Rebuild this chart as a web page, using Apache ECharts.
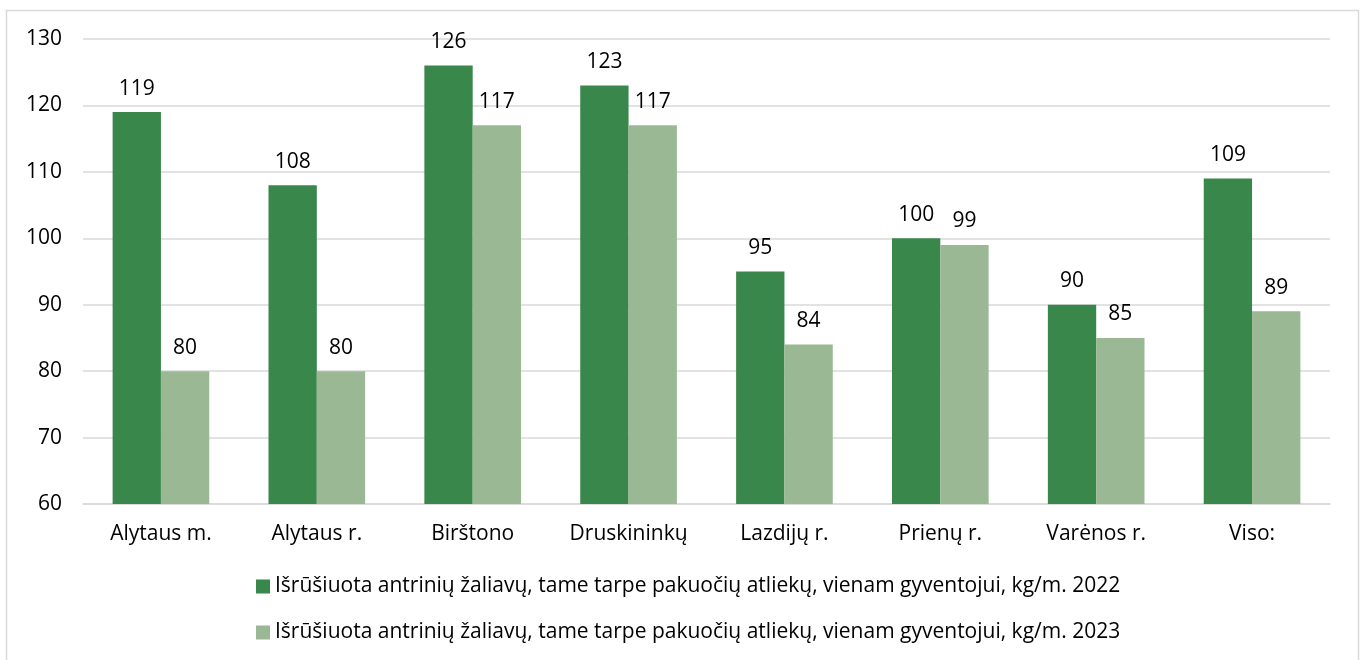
<!DOCTYPE html>
<html><head><meta charset="utf-8">
<script src="https://cdn.jsdelivr.net/npm/echarts@6/dist/echarts.min.js"></script>
<style>html,body{margin:0;padding:0;background:#fff}#c{width:1365px;height:660px}</style>
</head><body><div id="c"></div>
<script>
const categories = ["Alytaus m.", "Alytaus r.", "Birštono", "Druskininkų", "Lazdijų r.", "Prienų r.", "Varėnos r.", "Viso:"];
const values2022 = [119, 108, 126, 123, 95, 100, 90, 109];
const values2023 = [80, 80, 117, 117, 84, 99, 85, 89];
const seriesNames = ["Išrūšiuota antrinių žaliavų, tame tarpe pakuočių atliekų, vienam gyventojui, kg/m. 2022",
                     "Išrūšiuota antrinių žaliavų, tame tarpe pakuočių atliekų, vienam gyventojui, kg/m. 2023"];
const FONT = '"Open Sans", "Liberation Sans", sans-serif';
const chart = echarts.init(document.getElementById('c'));
const lbl = {show: true, position: 'top', distance: 13, color: '#000', fontSize: 21, fontFamily: FONT};
chart.setOption({
  animation: false,
  textStyle: {fontFamily: FONT},
  graphic: [{type: 'rect', shape: {x: 6.5, y: 10.5, width: 1352, height: 700}, style: {fill: 'none', stroke: '#d9d9d9', lineWidth: 1.5}, z: -1}],
  grid: {left: 83, right: 35, top: 39, bottom: 156},
  legend: {
    orient: 'vertical', left: 251, top: 571, itemGap: 25, itemWidth: 14, itemHeight: 14,
    icon: 'rect',
    textStyle: {fontSize: 21, color: '#000', fontFamily: FONT, padding: [0, 0, 0, 0]},
    data: seriesNames
  },
  xAxis: {
    type: 'category', data: categories,
    axisLine: {lineStyle: {color: '#d9d9d9', width: 1.5}},
    axisTick: {show: false},
    axisLabel: {color: '#000', fontSize: 21, margin: 20, fontFamily: FONT}
  },
  yAxis: {
    type: 'value', min: 60, max: 130, interval: 10,
    axisLine: {show: false}, axisTick: {show: false},
    axisLabel: {color: '#000', fontSize: 21, margin: 21, fontFamily: FONT},
    splitLine: {lineStyle: {color: '#d9d9d9', width: 1.5}}
  },
  series: [
    {name: seriesNames[0], type: 'bar', data: values2022, barGap: '0%', barCategoryGap: '38%',
     itemStyle: {color: '#3A874B'}, label: lbl},
    {name: seriesNames[1], type: 'bar', data: values2023,
     itemStyle: {color: '#9AB894'}, label: lbl}
  ]
});
</script></body></html>
